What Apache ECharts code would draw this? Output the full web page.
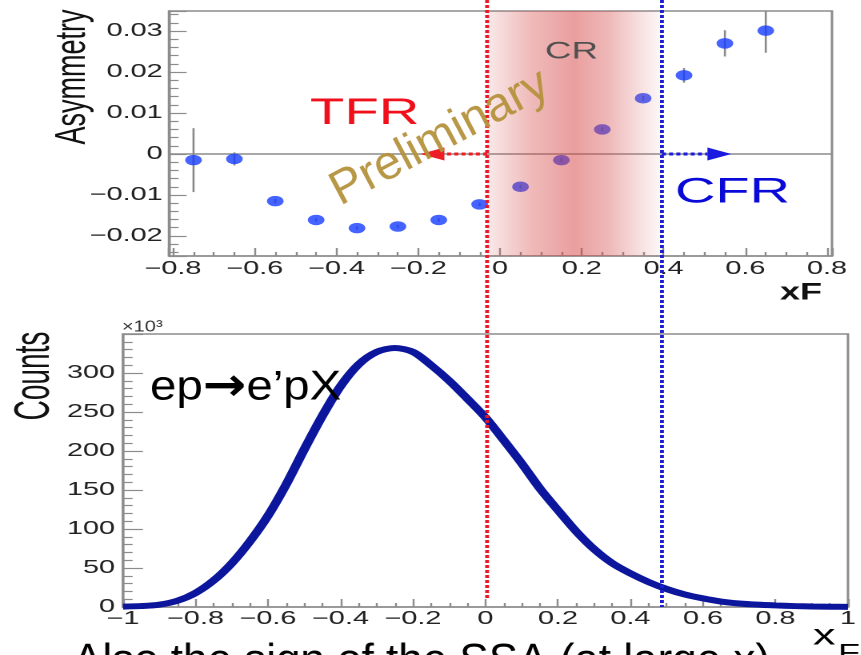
<!DOCTYPE html>
<html><head><meta charset="utf-8">
<script src="https://cdn.jsdelivr.net/npm/echarts@6/dist/echarts.min.js"></script>
<style>
html,body{margin:0;padding:0;background:#fff;overflow:hidden;width:861px;height:655px}
#wrap{position:absolute;left:0;top:0;width:538.125px;height:655px;transform:scaleX(1.6);transform-origin:0 0}
#c{width:538.125px;height:655px}
</style></head>
<body><div id="wrap"><div id="c"></div></div>
<script>
// ---------- data ----------
const asymX   = [-0.75, -0.65, -0.55, -0.45, -0.35, -0.25, -0.15, -0.05, 0.05, 0.15, 0.25, 0.35, 0.45, 0.55, 0.65];
const asymY   = [-0.0015, -0.0012, -0.0115, -0.0161, -0.0181, -0.0177, -0.0161, -0.0123, -0.0080, -0.0015, 0.0060, 0.0136, 0.0192, 0.0270, 0.0301];
const asymErr = [0.0078, 0.0016, 0.0005, 0.0004, 0.0004, 0.0004, 0.0004, 0.0004, 0.0004, 0.0005, 0.0005, 0.0006, 0.0018, 0.0032, 0.0054];

const countsX = [-1.00, -0.95, -0.90, -0.85, -0.80, -0.75, -0.70, -0.65, -0.60, -0.55, -0.50, -0.45, -0.40, -0.35, -0.30, -0.25, -0.20, -0.15, -0.10, -0.05,
                  0.00, 0.05, 0.10, 0.15, 0.20, 0.25, 0.30, 0.35, 0.40, 0.45, 0.50, 0.55, 0.60, 0.65, 0.70, 0.75, 0.80, 0.85, 0.90, 0.95, 1.00];
const countsY = [0.5, 1.2, 3, 8, 18, 34, 56, 84, 117, 157, 202, 245, 283, 311, 327, 332, 327, 310, 290, 267,
                 243, 214, 184, 152, 124, 97, 74, 56, 43, 32, 23, 16, 11, 7, 4.5, 3, 2, 1.2, 0.7, 0.4, 0.2];

const topXTicks = [-0.8, -0.6, -0.4, -0.2, 0, 0.2, 0.4, 0.6, 0.8];
const topYTicks = [-0.02, -0.01, 0, 0.01, 0.02, 0.03];
const botXTicks = [-1, -0.8, -0.6, -0.4, -0.2, 0, 0.2, 0.4, 0.6, 0.8, 1];
const botYTicks = [0, 50, 100, 150, 200, 250, 300];

const topXRange = [-0.81, 0.812];
const topYRange = [-0.0249, 0.0349];
const botXRange = [-1, 1];
const botYRange = [0, 350];

const crBounds  = [-0.0318, 0.396];     // CR region edges (dotted lines)
const arrowTips = [-0.195, 0.566];      // TFR / CFR arrow tips

// ---------- layout helpers ----------
const SX = 1.6;                          // horizontal stretch of the picture
const FONT = 'Liberation Sans, Arial, Helvetica, sans-serif';
const AXC = '#8c8c8c';

function labelFmt(list) {
  return function (v) {
    const t = list.find(a => Math.abs(a - v) < 1e-9);
    if (t === undefined) return '';
    return t === 0 ? '0' : String(t).replace('-', '\u2212');
  };
}

const chart = echarts.init(document.getElementById('c'), null, {devicePixelRatio: 2});

function xAx(grid, range, ticks, extra) {
  return Object.assign({
    type: 'value', gridIndex: grid, min: range[0], max: range[1],
    axisLine: {show: true, onZero: false, lineStyle: {color: AXC, width: 1.5}},
    axisTick: {show: true, inside: true, length: 8, lineStyle: {color: AXC, width: 1.2}},
    minorTick: {show: true, splitNumber: 4, length: 4, lineStyle: {color: AXC, width: 1.2}},
    splitLine: {show: false}, minorSplitLine: {show: false},
    axisLabel: {formatter: labelFmt(ticks), fontSize: 18, color: '#222', fontFamily: FONT, margin: 4, hideOverlap: false}
  }, extra);
}
function yAx(grid, range, ticks, extra) {
  return Object.assign({
    type: 'value', gridIndex: grid, min: range[0], max: range[1],
    axisLine: {show: true, onZero: false, lineStyle: {color: AXC, width: 1.5}},
    axisTick: {show: true, inside: true, length: 11, lineStyle: {color: AXC, width: 1.2}},
    minorTick: {show: true, splitNumber: 5, length: 6, lineStyle: {color: AXC, width: 1.2}},
    splitLine: {show: false}, minorSplitLine: {show: false},
    axisLabel: {formatter: labelFmt(ticks), fontSize: 18, color: '#222', fontFamily: FONT, margin: 4, hideOverlap: false}
  }, extra);
}

const option = {
  animation: false,
  backgroundColor: '#fff',
  grid: [
    {left: 169 / SX, top: 11, width: 663 / SX, height: 245, show: true, borderColor: AXC, borderWidth: 1.5},
    {left: 123 / SX, top: 334, width: 739 / SX, height: 273, show: true, borderColor: AXC, borderWidth: 1.5}
  ],
  xAxis: [
    xAx(0, topXRange, topXTicks, {splitNumber: 8}),
    xAx(1, botXRange, botXTicks, {interval: 0.2, axisLabel: {formatter: labelFmt(botXTicks), fontSize: 18, color: '#222', fontFamily: FONT, margin: 3}})
  ],
  yAxis: [
    yAx(0, topYRange, topYTicks, {splitNumber: 6}),
    yAx(1, botYRange, botYTicks, {interval: 50, axisTick: {show: true, inside: true, length: 12.5, lineStyle: {color: AXC, width: 1.2}},
      axisLabel: {formatter: labelFmt(botYTicks), fontSize: 18, color: '#222', fontFamily: FONT, margin: 5}})
  ],
  series: [
    { // zero line of the asymmetry panel
      type: 'line', xAxisIndex: 0, yAxisIndex: 0, z: 1, silent: true, symbol: 'none',
      data: [[topXRange[0], 0], [topXRange[1], 0]],
      lineStyle: {color: AXC, width: 1.5}
    },
    { // error bars
      type: 'custom', xAxisIndex: 0, yAxisIndex: 0, z: 2, silent: true,
      data: asymX.map((x, i) => [x, asymY[i], asymErr[i]]),
      renderItem: function (p, api) {
        const x = api.value(0), y = api.value(1), e = api.value(2);
        const a = api.coord([x, Math.min(y + e, topYRange[1])]);
        const b = api.coord([x, Math.max(y - e, topYRange[0])]);
        return {type: 'line', shape: {x1: a[0], y1: a[1], x2: b[0], y2: b[1]}, style: {stroke: '#8a8a8a', lineWidth: 1.3}};
      }
    },
    { // asymmetry points
      type: 'scatter', xAxisIndex: 0, yAxisIndex: 0, z: 3,
      data: asymX.map((x, i) => [x, asymY[i]]),
      symbol: 'circle', symbolSize: 10.5,
      itemStyle: {color: '#163cff'}
    },
    { // CR band
      type: 'custom', xAxisIndex: 0, yAxisIndex: 0, z: 10, silent: true,
      data: [[crBounds[0], 0, crBounds[1]]],
      renderItem: function (p, api) {
        const a = api.coord([api.value(0), topYRange[1]]);
        const b = api.coord([api.value(2), topYRange[0]]);
        return {type: 'rect', shape: {x: a[0], y: a[1], width: b[0] - a[0], height: b[1] - a[1]},
          style: {fill: new echarts.graphic.LinearGradient(0, 0, 1, 0, [
            {offset: 0, color: 'rgba(215,80,80,0.12)'},
            {offset: 0.25, color: 'rgba(215,75,75,0.38)'},
            {offset: 0.5, color: 'rgba(215,70,70,0.52)'},
            {offset: 0.7, color: 'rgba(215,80,80,0.40)'},
            {offset: 0.9, color: 'rgba(220,110,110,0.18)'},
            {offset: 1, color: 'rgba(225,140,140,0.06)'}
          ])}};
      }
    },
    { // TFR / CFR arrows
      type: 'custom', xAxisIndex: 0, yAxisIndex: 0, z: 8, silent: true,
      data: [[crBounds[0], arrowTips[0], 0, 0], [crBounds[1], arrowTips[1], 0, 1]],
      renderItem: function (p, api) {
        const s = api.coord([api.value(0), api.value(2)]);
        const t = api.coord([api.value(1), api.value(2)]);
        const col = api.value(3) === 0 ? '#ee1c25' : '#1a1ae0';
        const dir = t[0] > s[0] ? 1 : -1;
        const hl = 15, hh = 6.5;
        const bx = t[0] - dir * hl;
        return {type: 'group', children: [
          {type: 'line', shape: {x1: s[0], y1: s[1], x2: bx, y2: t[1]}, style: {stroke: col, lineWidth: 3, lineDash: [2.5, 2]}},
          {type: 'polygon', shape: {points: [[t[0], t[1]], [bx, t[1] - hh], [bx, t[1] + hh]]}, style: {fill: col}}
        ]};
      }
    },
    { // counts distribution
      type: 'line', xAxisIndex: 1, yAxisIndex: 1, z: 3, silent: true,
      data: countsX.map((x, i) => [x, countsY[i]]),
      symbol: 'none', smooth: 0.3,
      lineStyle: {color: '#0c169c', width: 6}
    }
  ]
};
chart.setOption(option);

// ---------- overlay: region lines and texts ----------
function txt(rx, ry, stretch, rotDeg, text, st) {
  return {type: 'group', x: rx / SX, y: ry, scaleX: stretch / SX, z: 60,
    children: [{type: 'text', rotation: rotDeg * Math.PI / 180, z: 60,
      style: Object.assign({text: text, x: 0, y: 0, fill: '#000', fontFamily: FONT, fontSize: 20,
        textAlign: 'left', align: 'left', textVerticalAlign: 'middle', verticalAlign: 'middle'}, st)}]};
}
const xRed  = chart.convertToPixel({xAxisIndex: 0}, crBounds[0]);
const xBlue = chart.convertToPixel({xAxisIndex: 0}, crBounds[1]);
const yBot  = chart.convertToPixel({yAxisIndex: 1}, botYRange[0]);

chart.setOption({graphic: [
  {type: 'line', z: 50, silent: true, shape: {x1: xRed, y1: 0, x2: xRed, y2: yBot - 8}, style: {stroke: '#e8182a', lineWidth: 2.4, lineDash: [3, 2]}},
  {type: 'line', z: 50, silent: true, shape: {x1: xBlue, y1: 0, x2: xBlue, y2: yBot}, style: {stroke: '#1c1cd0', lineWidth: 2.4, lineDash: [3, 2]}},
  txt(545, 52, 1.53, 0, 'CR', {fontSize: 24, fill: '#505050'}),
  txt(310, 114, 1.52, 0, 'TFR', {fontSize: 37, fill: '#f0101c'}),
  txt(675, 193, 1.6, 0, 'CFR', {fontSize: 35, fill: '#0a0ad8'}),
  txt(440, 138, 1.0, 28, 'Preliminary', {fontSize: 48, fill: 'rgba(180,145,60,0.95)', textAlign: 'center', align: 'center'}),
  txt(73, 77, 1.6, 90, 'Asymmetry', {fontSize: 27, fill: '#111', textAlign: 'center', align: 'center'}),
  txt(822, 293, 1.5, 0, 'xF', {fontSize: 24, fontWeight: 'bold', fill: '#111', textAlign: 'right', align: 'right'}),
  txt(122, 327, 1.25, 0, '\u00d710\u00b3', {fontSize: 16, fill: '#333'}),
  txt(35, 376, 1.8, 90, 'Counts', {fontSize: 28, fill: '#111', textAlign: 'center', align: 'center'}),
  txt(150, 388, 1.13, 0, 'ep{a|\u2192}e\u2019pX', {fontSize: 42, fill: '#000',
    rich: {a: {fontSize: 46, fontWeight: 'bold', fontFamily: 'DejaVu Sans', fill: '#000', padding: [0, 0, 0, 0]}}}),
  txt(813, 636, 1.5, 0, 'x', {fontSize: 30, fill: '#000'}),
  txt(838, 654, 1.5, 0, 'F', {fontSize: 24, fill: '#000'}),
  txt(73, 662, 1.0, 0, 'Also the sign of the SSA (at large x)', {fontSize: 44, fill: '#000'})
]});
</script>
</body></html>
